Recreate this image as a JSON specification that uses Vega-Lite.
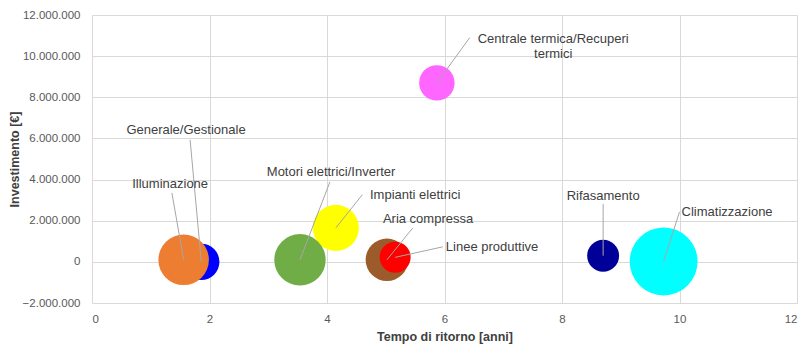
{
  "$schema": "https://vega.github.io/schema/vega-lite/v6.json",
  "autosize": "none",
  "width": 705,
  "height": 288,
  "padding": {"left": 92, "top": 15, "right": 10, "bottom": 45},
  "background": "white",
  "config": {
    "font": "Liberation Sans",
    "view": {"stroke": null},
    "text": {"lineBreak": "\n"}
  },
  "data": {
    "values": [
      {"area": "Climatizzazione", "tempo": 9.73, "investimento": 20000, "dimensione": 1467, "colore": "#00FFFF", "label_x": 10.81, "label_y": 2430000, "lead_x": 10.0, "lead_y": 2430000},
      {"area": "Rifasamento", "tempo": 8.70, "investimento": 300000, "dimensione": 324, "colore": "#000099", "label_x": 8.70, "label_y": 3210000, "lead_x": 8.70, "lead_y": 2820000},
      {"area": "Centrale termica/Recuperi\ntermici", "tempo": 5.87, "investimento": 8700000, "dimensione": 400, "colore": "#FF66FF", "label_x": 7.85, "label_y": 10840000, "lead_x": 6.43, "lead_y": 10900000},
      {"area": "Generale/Gestionale", "tempo": 1.86, "investimento": 0, "dimensione": 420, "colore": "#0000FF", "label_x": 1.60, "label_y": 6420000, "lead_x": 1.67, "lead_y": 5930000},
      {"area": "Illuminazione", "tempo": 1.56, "investimento": 100000, "dimensione": 812, "colore": "#ED7D31", "label_x": 1.33, "label_y": 3790000, "lead_x": 1.36, "lead_y": 3350000},
      {"area": "Impianti elettrici", "tempo": 4.15, "investimento": 1650000, "dimensione": 676, "colore": "#FFFF00", "label_x": 5.50, "label_y": 3260000, "lead_x": 4.60, "lead_y": 3260000},
      {"area": "Motori elettrici/Inverter", "tempo": 3.54, "investimento": 100000, "dimensione": 841, "colore": "#70AD47", "label_x": 4.07, "label_y": 4380000, "lead_x": 4.05, "lead_y": 3890000},
      {"area": "Aria compressa", "tempo": 5.02, "investimento": 100000, "dimensione": 576, "colore": "#9C5B2A", "label_x": 5.72, "label_y": 2090000, "lead_x": 5.46, "lead_y": 1650000},
      {"area": "Linee produttive", "tempo": 5.16, "investimento": 220000, "dimensione": 306, "colore": "#FF0000", "label_x": 6.81, "label_y": 730000, "lead_x": 5.97, "lead_y": 730000}
    ]
  },
  "layer": [
    {
      "mark": {"type": "circle", "opacity": 1},
      "encoding": {
        "x": {
          "field": "tempo", "type": "quantitative",
          "scale": {"domain": [0, 12], "nice": false, "zero": false},
          "axis": {
            "values": [0, 2, 4, 6, 8, 10, 12],
            "format": "d",
            "title": "Tempo di ritorno [anni]",
            "titleFontWeight": "bold", "titleFontSize": 12.5, "titleColor": "#404040", "titlePadding": 6,
            "labelFontSize": 11.5, "labelColor": "#595959", "labelPadding": 10,
            "ticks": false, "domain": false,
            "grid": true, "gridColor": "#D9D9D9", "gridWidth": 1
          }
        },
        "y": {
          "field": "investimento", "type": "quantitative",
          "scale": {"domain": [-2000000, 12000000], "nice": false, "zero": false},
          "axis": {
            "values": [-2000000, 0, 2000000, 4000000, 6000000, 8000000, 10000000, 12000000],
            "labelExpr": "replace(format(datum.value, ','), /,/g, '.')",
            "title": "Investimento [€]",
            "titleFontWeight": "bold", "titleFontSize": 12.5, "titleColor": "#404040", "titlePadding": 1,
            "labelFontSize": 11.5, "labelColor": "#595959", "labelPadding": 12,
            "ticks": false, "domain": false,
            "grid": true, "gridColor": "#D9D9D9", "gridWidth": 1
          }
        },
        "size": {
          "field": "dimensione", "type": "quantitative",
          "scale": {"type": "linear", "domain": [0, 1467], "range": [0, 4608], "zero": true},
          "legend": null
        },
        "color": {"field": "colore", "type": "nominal", "scale": null, "legend": null}
      }
    },
    {
      "mark": {"type": "rule", "color": "#A6A6A6", "strokeWidth": 1},
      "encoding": {
        "x": {"field": "tempo", "type": "quantitative"},
        "y": {"field": "investimento", "type": "quantitative"},
        "x2": {"field": "lead_x"},
        "y2": {"field": "lead_y"}
      }
    },
    {
      "mark": {"type": "text", "align": "center", "baseline": "middle", "fontSize": 13, "color": "#404040"},
      "encoding": {
        "x": {"field": "label_x", "type": "quantitative"},
        "y": {"field": "label_y", "type": "quantitative"},
        "text": {"field": "area"}
      }
    }
  ]
}
